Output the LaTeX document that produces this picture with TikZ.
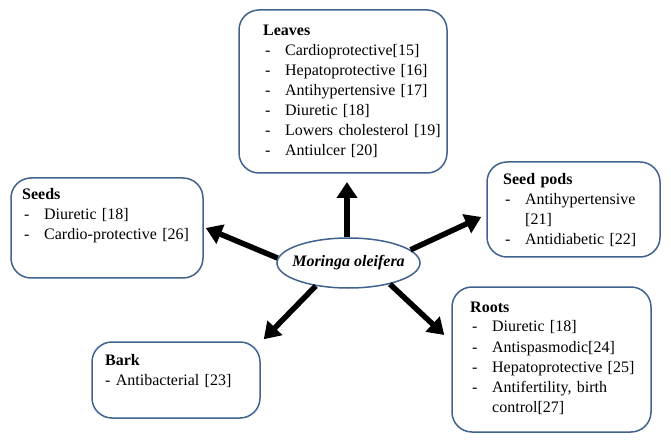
\documentclass[tikz,border=0pt]{standalone}
\usepackage{fontspec}
\setmainfont{Liberation Serif}
\usetikzlibrary{arrows.meta,shapes.geometric}
\definecolor{boxc}{HTML}{41628E}
\newcommand\ditem[1]{\makebox[22pt][l]{\hspace{2pt}-}#1}
\begin{document}
\begin{tikzpicture}[x=1pt,y=-1pt,
  box/.style={draw=boxc,line width=1.5pt,rounded corners=20pt,inner sep=0pt},
  txt/.style={anchor=base west,inner sep=0pt,font=\fontsize{16}{20}\selectfont,align=left,text width=#1},
  arr/.style={line width=5.5pt,-{Triangle[length=16pt,width=20pt]}}]
\useasboundingbox (0,0) rectangle (671,443);
\fill[white] (0,0) rectangle (671,443);

% boxes
\node[box,minimum width=208pt,minimum height=163pt] (leaves) at (343,91.5) {};
\node[box,minimum width=192pt,minimum height=100pt] (seeds) at (107,228) {};
\node[box,minimum width=173pt,minimum height=95pt] (pods) at (573.5,209.5) {};
\node[box,minimum width=199pt,minimum height=145pt] (roots) at (551.5,359.5) {};
\node[box,minimum width=168pt,minimum height=76pt] (bark) at (176,380) {};
\node[ellipse,draw=boxc,line width=1.5pt,minimum width=143pt,minimum height=50pt,inner xsep=-12pt,inner ysep=0pt,
      font=\fontsize{16}{20}\selectfont\bfseries\itshape] (m) at (348.5,263) {Moringa oleifera};
\coordinate (uptip) at (347,182);

% texts
\node[txt=180pt] (tleaves) at (263,36) {\textbf{Leaves}\\
\ditem{Cardioprotective[15]}\\
\ditem{Hepatoprotective [16]}\\
\ditem{Antihypertensive [17]}\\
\ditem{Diuretic [18]}\\
\ditem{Lowers cholesterol [19]}\\
\ditem{Antiulcer [20]}};
\node[txt=180pt] (tseeds) at (22,200) {\textbf{Seeds}\\
\ditem{Diuretic [18]}\\
\ditem{Cardio-protective [26]}};
\node[txt=150pt] (tpods) at (503,185) {\textbf{Seed pods}\\
\ditem{Antihypertensive}\\
\makebox[22pt][l]{}[21]\\
\ditem{Antidiabetic [22]}};
\node[txt=180pt] (troots) at (470,312) {\textbf{Roots}\\
\ditem{Diuretic [18]}\\
\ditem{Antispasmodic[24]}\\
\ditem{Hepatoprotective [25]}\\
\ditem{Antifertility, birth}\\
\makebox[22pt][l]{}control[27]};
\node[txt=150pt] (tbark) at (105,365) {\textbf{Bark}\\
- Antibacterial [23]};

% arrows
\draw[arr] (uptip |- m.north) -- (uptip);
\draw[arr] (m.176) -- ([xshift=2pt]seeds.east);
\draw[arr] (m.12) -- ([xshift=-5pt,yshift=-7.5pt]pods.west);
\draw[arr] (m.215) -- ([xshift=3pt,yshift=2pt]bark.north east);
\draw[arr] (m.-27) -- ([xshift=-7pt,yshift=24.5pt]roots.west);
\end{tikzpicture}
\end{document}
